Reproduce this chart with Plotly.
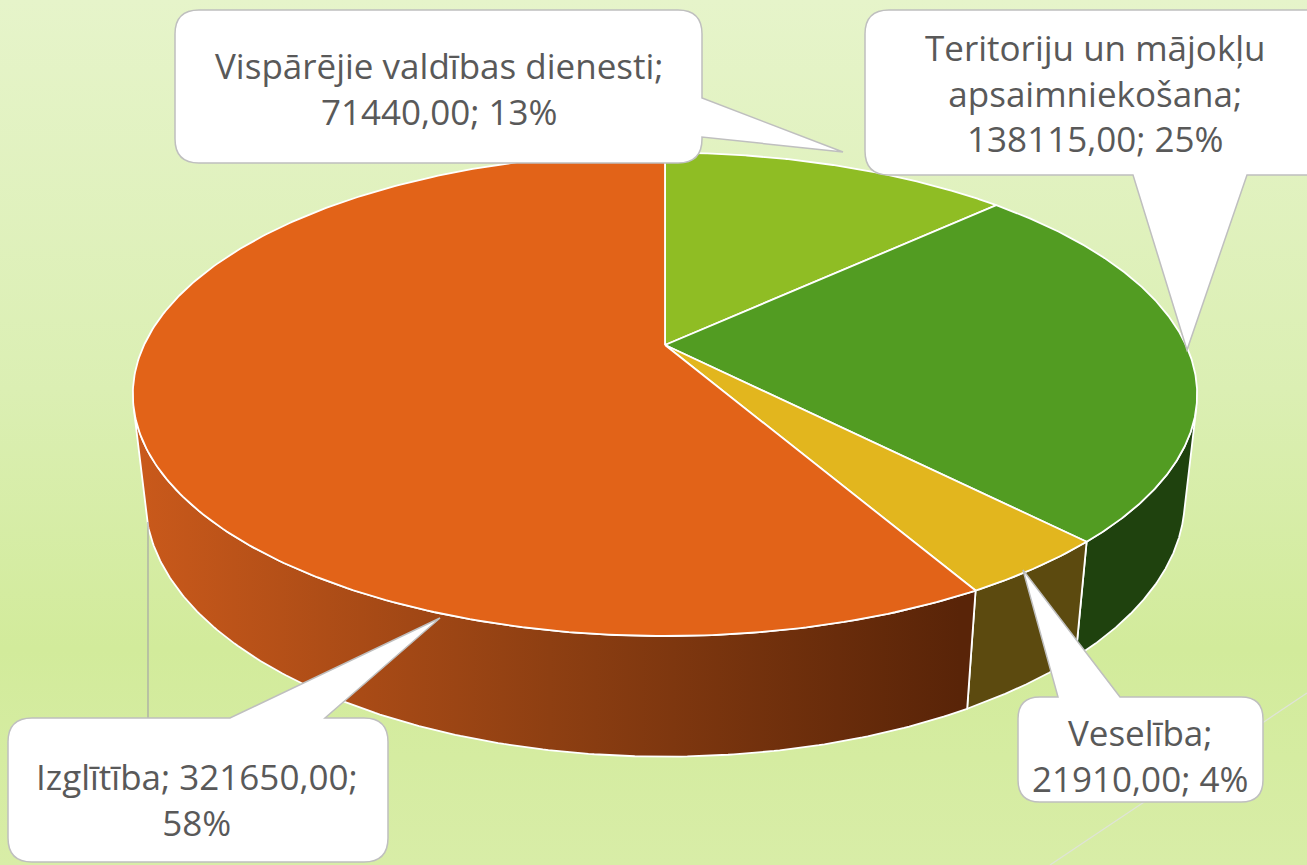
import numpy as np
import plotly.graph_objects as go

# ---------------- data ----------------
categories = ["Vispārējie valdības dienesti",
              "Teritoriju un mājokļu apsaimniekošana",
              "Veselība",
              "Izglītība"]
values = [71440.00, 138115.00, 21910.00, 321650.00]
top_colors = ["#8fbd24", "#529c22", "#e2b61e", "#e26318"]
side_colors = ["#46600f", "#1f420e", "#5c4a0f", "#b04c16"]
orange_side_scale = [[0, "#c9591b"], [0.5, "#8e3f12"], [1, "#592408"]]
bg_scale = [[0, "#e6f4ca"], [0.45, "#dbefb3"], [0.75, "#d2eb9b"], [1, "#d8eda7"]]

# ---------------- geometry (3D pie projection) ----------------
W, HGT = 1307, 865
CX, CY = 665.0, 345.0
K = 2287.0
DIST = 4.39
TILT = np.radians(26.4)
DEPTH = 0.226


def project(phi, z):
    X = np.sin(phi)
    Y = np.cos(phi)
    v = Y * np.sin(TILT) + z * np.cos(TILT)
    w = DIST + Y * np.cos(TILT) - z * np.sin(TILT)
    return CX + K * X / w, CY - K * v / w


total = sum(values)
fracs = [v / total for v in values]
bounds = np.concatenate([[0], np.cumsum(fracs)]) * 2 * np.pi

fig = go.Figure()

# background
fig.add_trace(go.Scatter(
    x=[0, W, W, 0, 0], y=[0, 0, HGT, HGT, 0], mode="lines", fill="toself",
    line=dict(width=0), fillgradient=dict(type="vertical", colorscale=bg_scale, start=0, stop=HGT),
    hoverinfo="skip", showlegend=False))

# visible side walls
vis_a = np.arccos(-1.0 / (DIST * np.cos(TILT)))
vis_b = 2 * np.pi - vis_a
for i in range(len(values)):
    a0 = max(bounds[i], vis_a)
    a1 = min(bounds[i + 1], vis_b)
    if a1 <= a0:
        continue
    t = np.linspace(a0, a1, 200)
    xt, yt = project(t, 0.0)
    xb, yb = project(t[::-1], -DEPTH)
    xs = np.concatenate([xt, xb, xt[:1]])
    ys = np.concatenate([yt, yb, yt[:1]])
    kw = dict(fillcolor=side_colors[i])
    if i == 3:
        kw = dict(fillgradient=dict(type="horizontal", colorscale=orange_side_scale,
                                    start=140, stop=960))
    fig.add_trace(go.Scatter(x=xs, y=ys, mode="lines", fill="toself",
                             line=dict(color="white", width=1.8),
                             hoverinfo="skip", showlegend=False, **kw))

# top faces
for i in range(len(values)):
    t = np.linspace(bounds[i], bounds[i + 1], 300)
    xa, ya = project(t, 0.0)
    xs = np.concatenate([[CX], xa, [CX]])
    ys = np.concatenate([[CY], ya, [CY]])
    fig.add_trace(go.Scatter(x=xs, y=ys, mode="lines", fill="toself",
                             fillcolor=top_colors[i],
                             line=dict(color="white", width=1.8),
                             name=categories[i], hoverinfo="name", showlegend=False))

# ---------------- callouts ----------------
def callout(x0, y0, x1, y1, r, side, pa, pb, tip):
    tx, ty = tip
    p = [f"M{x0 + r},{y0}"]
    if side == "top":
        p += [f"L{pa},{y0}", f"L{tx},{ty}", f"L{pb},{y0}"]
    p += [f"L{x1 - r},{y0}", f"Q{x1},{y0} {x1},{y0 + r}"]
    if side == "right":
        p += [f"L{x1},{pa}", f"L{tx},{ty}", f"L{x1},{pb}"]
    p += [f"L{x1},{y1 - r}", f"Q{x1},{y1} {x1 - r},{y1}"]
    if side == "bottom":
        p += [f"L{pb},{y1}", f"L{tx},{ty}", f"L{pa},{y1}"]
    p += [f"L{x0 + r},{y1}", f"Q{x0},{y1} {x0},{y1 - r}", f"L{x0},{y0 + r}",
          f"Q{x0},{y0} {x0 + r},{y0}", "Z"]
    return dict(type="path", path=" ".join(p), xref="x", yref="y",
                fillcolor="white", line=dict(color="#bfbfbf", width=1.5), layer="above")


shapes = [
    dict(type="line", x0=1307, y0=693, x1=1050, y1=865, xref="x", yref="y",
         line=dict(color="#dfe3d8", width=1.2), layer="above"),
    dict(type="line", x0=148, y0=522, x1=148, y1=718, xref="x", yref="y",
         line=dict(color="#a6a6a6", width=1.2), layer="above"),
    callout(175, 10, 702, 163, 24, "right", 98, 137, (843, 152)),
    callout(865, 10, 1340, 175, 24, "bottom", 1133, 1247, (1187, 350)),
    callout(8, 718, 388, 862, 24, "top", 230, 325, (440, 618)),
    callout(1018, 697, 1263, 802, 22, "top", 1058, 1120, (1023, 570)),
]


def fmt(v):
    return f"{v:.2f}".replace(".", ",")


pcts = [round(f * 100) for f in fracs]
cat1a, cat1b = categories[1].rsplit(" ", 1)
label_lines = [
    [f"{categories[0]};", f"{fmt(values[0])}; {pcts[0]}%"],
    [cat1a, f"{cat1b};", f"{fmt(values[1])}; {pcts[1]}%"],
    [f"{categories[2]};", f"{fmt(values[2])}; {pcts[2]}%"],
    [f"{categories[3]}; {fmt(values[3])};", f"{pcts[3]}%"],
]
label_pos = [(439, 88), (1095, 93), (1140, 755), (197, 799)]

annotations = []
for lines, (lx, ly) in zip(label_lines, label_pos):
    annotations.append(dict(x=lx, y=ly, xref="x", yref="y", text="<br>".join(lines),
                            showarrow=False, xanchor="center", yanchor="middle", align="center",
                            font=dict(family="Open Sans", size=35, color="#595959")))

fig.update_layout(
    width=W, height=HGT, margin=dict(l=0, r=0, t=0, b=0),
    paper_bgcolor="#dcefb5", plot_bgcolor="#dcefb5",
    xaxis=dict(range=[0, W], visible=False, fixedrange=True),
    yaxis=dict(range=[HGT, 0], visible=False, fixedrange=True),
    shapes=shapes, annotations=annotations, showlegend=False,
)

fig.write_html("out.html", config=dict(displayModeBar=False),
               post_script="document.body.style.margin='0';document.body.style.overflow='hidden';"
                           "document.body.style.background='#e6f4ca';")
